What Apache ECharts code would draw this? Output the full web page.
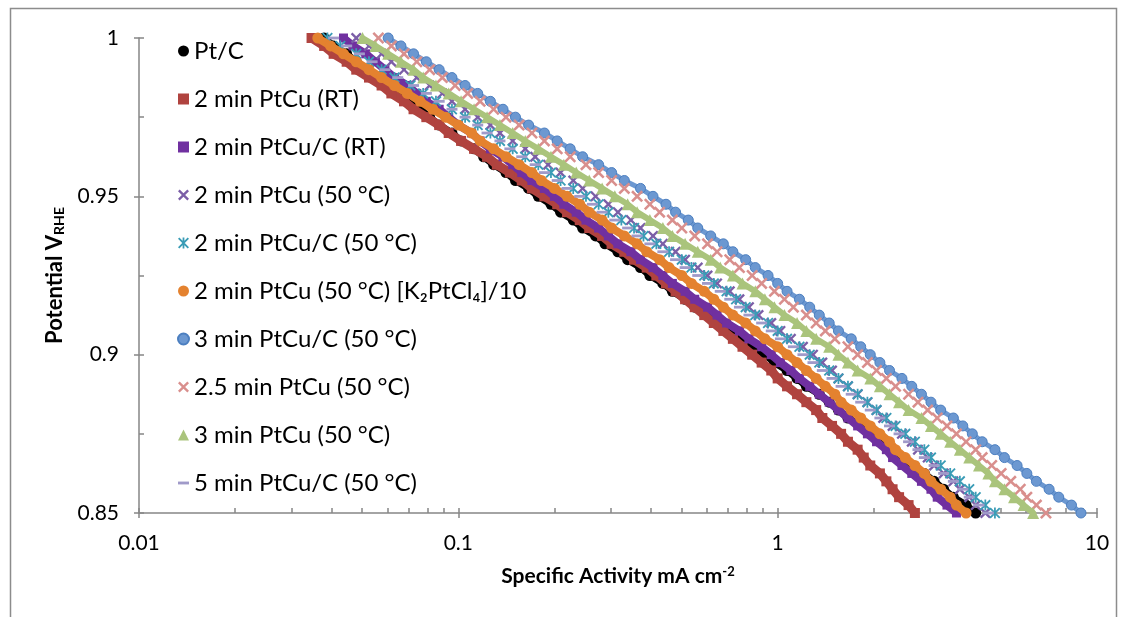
<!DOCTYPE html>
<html>
<head>
<meta charset="utf-8">
<script src="https://cdn.jsdelivr.net/npm/echarts@6/dist/echarts.min.js"></script>
<style>
  html, body { margin: 0; padding: 0; background: #ffffff; }
  #chart { width: 1126px; height: 617px; }
</style>
</head>
<body>
<div id="chart"></div>
<script>
// Electrode potential (V vs RHE), shared by every polarisation curve
const potential = [
  1.0000, 0.9975, 0.9950, 0.9925, 0.9900, 0.9875, 0.9850, 0.9825, 0.9800, 0.9775,
  0.9750, 0.9725, 0.9700, 0.9675, 0.9650, 0.9625, 0.9600, 0.9575, 0.9550, 0.9525,
  0.9500, 0.9475, 0.9450, 0.9425, 0.9400, 0.9375, 0.9350, 0.9325, 0.9300, 0.9275,
  0.9250, 0.9225, 0.9200, 0.9175, 0.9150, 0.9125, 0.9100, 0.9075, 0.9050, 0.9025,
  0.9000, 0.8975, 0.8950, 0.8925, 0.8900, 0.8875, 0.8850, 0.8825, 0.8800, 0.8775,
  0.8750, 0.8725, 0.8700, 0.8675, 0.8650, 0.8625, 0.8600, 0.8575, 0.8550, 0.8525,
  0.8500
];

// Specific activity (mA cm-2) at each potential above
const ptC = [
  0.0380, 0.0407, 0.0447, 0.0479, 0.0513, 0.0562, 0.0603, 0.0646, 0.0692, 0.0759, 0.0813,
  0.0871, 0.0955, 0.102, 0.112, 0.120, 0.129, 0.141, 0.151, 0.166, 0.178,
  0.195, 0.209, 0.229, 0.245, 0.269, 0.288, 0.316, 0.339, 0.372, 0.398,
  0.437, 0.468, 0.513, 0.550, 0.603, 0.661, 0.708, 0.776, 0.832, 0.912,
  0.977, 1.07, 1.15, 1.23, 1.35, 1.45, 1.55, 1.66, 1.82, 1.95,
  2.09, 2.29, 2.45, 2.63, 2.88, 3.09, 3.31, 3.55, 3.89, 4.17
];
const ptCu2RT = [
  0.0347, 0.0380, 0.0407, 0.0447, 0.0479, 0.0525, 0.0575, 0.0617, 0.0676, 0.0724, 0.0794,
  0.0871, 0.0933, 0.102, 0.112, 0.123, 0.132, 0.145, 0.158, 0.170, 0.186,
  0.204, 0.219, 0.240, 0.257, 0.282, 0.302, 0.331, 0.355, 0.389, 0.417,
  0.447, 0.479, 0.513, 0.550, 0.589, 0.631, 0.676, 0.724, 0.776, 0.832,
  0.891, 0.955, 1.00, 1.07, 1.15, 1.23, 1.32, 1.38, 1.48, 1.58,
  1.66, 1.78, 1.86, 1.95, 2.09, 2.19, 2.29, 2.40, 2.57, 2.69
];
const ptCuC2RT = [
  0.0437, 0.0468, 0.0513, 0.0550, 0.0589, 0.0631, 0.0692, 0.0741, 0.0794, 0.0871, 0.0933,
  0.100, 0.110, 0.117, 0.126, 0.138, 0.148, 0.158, 0.170, 0.186, 0.200,
  0.214, 0.234, 0.251, 0.275, 0.295, 0.316, 0.347, 0.372, 0.407, 0.437,
  0.468, 0.513, 0.550, 0.603, 0.646, 0.692, 0.759, 0.813, 0.891, 0.955,
  1.02, 1.10, 1.17, 1.26, 1.35, 1.45, 1.55, 1.66, 1.78, 1.91,
  2.04, 2.19, 2.29, 2.45, 2.63, 2.82, 3.02, 3.16, 3.39, 3.63
];
const ptCu2At50 = [
  0.0479, 0.0525, 0.0575, 0.0617, 0.0676, 0.0741, 0.0813, 0.0891, 0.0955, 0.105, 0.115,
  0.126, 0.135, 0.148, 0.162, 0.174, 0.191, 0.209, 0.229, 0.245, 0.269,
  0.295, 0.316, 0.347, 0.372, 0.407, 0.437, 0.479, 0.513, 0.562, 0.603,
  0.646, 0.708, 0.759, 0.813, 0.871, 0.955, 1.02, 1.10, 1.20, 1.29,
  1.38, 1.48, 1.55, 1.66, 1.78, 1.91, 2.04, 2.14, 2.29, 2.45,
  2.63, 2.75, 2.95, 3.09, 3.31, 3.55, 3.72, 3.98, 4.17, 4.47
];
const ptCuC2At50 = [
  0.0389, 0.0427, 0.0479, 0.0525, 0.0575, 0.0631, 0.0708, 0.0776, 0.0851, 0.0955, 0.105,
  0.115, 0.126, 0.135, 0.148, 0.162, 0.178, 0.195, 0.209, 0.229, 0.251,
  0.275, 0.295, 0.324, 0.355, 0.380, 0.417, 0.457, 0.501, 0.537, 0.589,
  0.631, 0.692, 0.741, 0.794, 0.851, 0.933, 1.00, 1.07, 1.17, 1.26,
  1.35, 1.45, 1.55, 1.66, 1.78, 1.91, 2.04, 2.19, 2.34, 2.51,
  2.69, 2.88, 3.02, 3.24, 3.47, 3.72, 3.98, 4.17, 4.47, 4.79
];
const ptCu2At50Dilute = [
  0.0363, 0.0398, 0.0437, 0.0479, 0.0525, 0.0575, 0.0631, 0.0692, 0.0759, 0.0832, 0.0912,
  0.100, 0.110, 0.117, 0.129, 0.141, 0.155, 0.170, 0.182, 0.200, 0.219,
  0.240, 0.257, 0.282, 0.302, 0.331, 0.363, 0.389, 0.427, 0.457, 0.501,
  0.537, 0.589, 0.631, 0.676, 0.724, 0.794, 0.851, 0.912, 1.00, 1.07,
  1.15, 1.23, 1.32, 1.41, 1.51, 1.58, 1.70, 1.82, 1.95, 2.09,
  2.24, 2.34, 2.51, 2.69, 2.88, 3.02, 3.24, 3.47, 3.63, 3.89
];
const ptCuC3At50 = [
  0.0603, 0.0661, 0.0724, 0.0794, 0.0871, 0.0955, 0.105, 0.115, 0.126, 0.138, 0.151,
  0.166, 0.186, 0.204, 0.224, 0.245, 0.275, 0.302, 0.331, 0.372, 0.407,
  0.447, 0.479, 0.525, 0.562, 0.617, 0.676, 0.724, 0.794, 0.851, 0.933,
  1.00, 1.07, 1.17, 1.26, 1.35, 1.45, 1.55, 1.70, 1.82, 1.95,
  2.09, 2.24, 2.45, 2.63, 2.82, 3.02, 3.24, 3.55, 3.80, 4.07,
  4.37, 4.79, 5.13, 5.62, 6.03, 6.46, 7.08, 7.59, 8.32, 8.91
];
const ptCu25At50 = [
  0.0562, 0.0617, 0.0676, 0.0741, 0.0813, 0.0891, 0.0977, 0.107, 0.117, 0.129, 0.141,
  0.155, 0.170, 0.186, 0.204, 0.224, 0.251, 0.275, 0.302, 0.331, 0.363,
  0.398, 0.427, 0.468, 0.501, 0.550, 0.603, 0.646, 0.708, 0.759, 0.832,
  0.891, 0.977, 1.05, 1.12, 1.23, 1.32, 1.41, 1.51, 1.66, 1.78,
  1.91, 2.04, 2.19, 2.34, 2.57, 2.75, 2.95, 3.16, 3.39, 3.63,
  3.89, 4.17, 4.37, 4.68, 5.01, 5.37, 5.75, 6.03, 6.46, 6.92
];
const ptCu3At50 = [
  0.0501, 0.0550, 0.0603, 0.0661, 0.0724, 0.0776, 0.0851, 0.0933, 0.102, 0.112, 0.123,
  0.135, 0.148, 0.162, 0.178, 0.195, 0.214, 0.234, 0.257, 0.282, 0.309,
  0.339, 0.363, 0.398, 0.437, 0.468, 0.513, 0.562, 0.617, 0.661, 0.724,
  0.776, 0.851, 0.912, 0.977, 1.05, 1.15, 1.23, 1.32, 1.45, 1.55,
  1.66, 1.78, 1.95, 2.09, 2.24, 2.40, 2.57, 2.82, 3.02, 3.24,
  3.47, 3.72, 3.98, 4.27, 4.57, 4.79, 5.13, 5.50, 5.89, 6.31
];
const ptCuC5At50 = [
  0.0407, 0.0447, 0.0490, 0.0537, 0.0589, 0.0646, 0.0724, 0.0794, 0.0871, 0.0955, 0.105,
  0.115, 0.123, 0.135, 0.145, 0.158, 0.174, 0.186, 0.204, 0.219, 0.240,
  0.263, 0.282, 0.309, 0.339, 0.363, 0.398, 0.437, 0.479, 0.513, 0.562,
  0.603, 0.661, 0.708, 0.759, 0.813, 0.891, 0.955, 1.02, 1.12, 1.20,
  1.29, 1.38, 1.48, 1.58, 1.70, 1.82, 1.95, 2.09, 2.24, 2.40,
  2.57, 2.75, 2.88, 3.09, 3.31, 3.55, 3.80, 3.98, 4.27, 4.57
];

// Series names, in legend order
const seriesNames = [
  'Pt/C',
  '2 min PtCu (RT)',
  '2 min PtCu/C (RT)',
  '2 min PtCu (50 °C)',
  '2 min PtCu/C (50 °C)',
  '2 min PtCu (50 °C) [K₂PtCl₄]/10',
  '3 min PtCu/C (50 °C)',
  '2.5 min PtCu (50 °C)',
  '3 min PtCu (50 °C)',
  '5 min PtCu/C (50 °C)'
];

// Axis tick values
const xMajorTicks = [0.01, 0.1, 1, 10];
const xMinorTicks = [
  0.01, 0.02, 0.03, 0.04, 0.05, 0.06, 0.07, 0.08, 0.09,
  0.1, 0.2, 0.3, 0.4, 0.5, 0.6, 0.7, 0.8, 0.9,
  1, 2, 3, 4, 5, 6, 7, 8, 9, 10
];

// Marker shapes
const X_MARK = 'path://M0,1.5L1.5,0L5,3.5L8.5,0L10,1.5L6.5,5L10,8.5L8.5,10L5,6.5L1.5,10L0,8.5L3.5,5Z';
const STAR_MARK = 'path://M4.2,0L5.8,0L5.8,10L4.2,10Z M0,1.2L1.2,0L10,8.8L8.8,10Z M8.8,0L10,1.2L1.2,10L0,8.8Z';
const DASH_MARK = 'path://M0,0L10,0L10,2.6L0,2.6Z';

const FONT = "Lato, 'DejaVu Sans', sans-serif";
const AXIS_GREY = '#868686';

// band: width of the trace joining consecutive filled markers (0 = markers only)
const styles = [
  { values: ptC,             symbol: 'circle',   size: 11,        color: '#000000', band: 7 },
  { values: ptCu2RT,         symbol: 'rect',     size: 10,        color: '#B0433F', band: 9 },
  { values: ptCuC2RT,        symbol: 'rect',     size: 9,         color: '#7030A0', band: 8 },
  { values: ptCu2At50,       symbol: X_MARK,     size: 11,        color: '#7B5EA7', band: 0 },
  { values: ptCuC2At50,      symbol: STAR_MARK,  size: 11,        color: '#3A9CB6', band: 0 },
  { values: ptCu2At50Dilute, symbol: 'circle',   size: 11,        color: '#E4822F', band: 8 },
  { values: ptCuC3At50,      symbol: 'circle',   size: 10,        color: '#6C98D1', band: 5, border: '#4C7FC0' },
  { values: ptCu25At50,      symbol: X_MARK,     size: 12,        color: '#D98F8D', band: 0 },
  { values: ptCu3At50,       symbol: 'triangle', size: 12,        color: '#AAC47C', band: 6 },
  { values: ptCuC5At50,      symbol: DASH_MARK,  size: [11, 2.8], color: '#A09AC9', band: 0 }
];

const series = styles.map((s, i) => {
  const base = {
    name: seriesNames[i],
    data: potential.map((v, k) => [s.values[k], v]),
    symbol: s.symbol,
    symbolSize: s.size,
    itemStyle: {
      color: s.color,
      opacity: 1,
      borderColor: s.border || s.color,
      borderWidth: s.border ? 1 : 0
    },
    emphasis: { disabled: true },
    z: 2 + i
  };
  if (s.band) {
    return Object.assign(base, {
      type: 'line',
      showSymbol: true,
      showAllSymbol: true,
      lineStyle: { color: s.color, width: s.band, cap: 'round', join: 'round' }
    });
  }
  return Object.assign(base, { type: 'scatter' });
});

const legendIcons = {
  'Pt/C': 'circle',
  '2 min PtCu (RT)': 'rect',
  '2 min PtCu/C (RT)': 'rect',
  '2 min PtCu (50 °C) [K₂PtCl₄]/10': 'circle',
  '3 min PtCu/C (50 °C)': 'circle',
  '3 min PtCu (50 °C)': 'triangle',
  '5 min PtCu/C (50 °C)': DASH_MARK
};

const chart = echarts.init(document.getElementById('chart'), null, { renderer: 'canvas' });
chart.setOption({
  animation: false,
  backgroundColor: '#ffffff',
  textStyle: { fontFamily: FONT },
  graphic: [{
    type: 'rect',
    silent: true,
    z: -10,
    shape: { x: 10.5, y: 8.5, width: 1106, height: 640 },
    style: { fill: 'none', stroke: '#8c8c8c', lineWidth: 1.5 }
  }],
  grid: { left: 139, right: 29, top: 38, bottom: 104 },
  legend: {
    orient: 'vertical',
    left: 172,
    top: 32,
    itemWidth: 11,
    itemHeight: 11,
    itemGap: 20,
    selectedMode: false,
    textStyle: { fontFamily: FONT, fontSize: 24, lineHeight: 28, color: '#000000' },
    data: seriesNames.map(n => legendIcons[n] ? { name: n, icon: legendIcons[n] } : { name: n })
  },
  xAxis: [{
    type: 'log',
    logBase: 10,
    min: 0.01,
    max: 10,
    position: 'bottom',
    name: 'Specific Activity mA cm{sup|-2}',
    nameLocation: 'middle',
    nameGap: 52,
    nameTextStyle: {
      fontFamily: FONT, fontSize: 21, fontWeight: 'bold', color: '#000000',
      rich: { sup: { fontFamily: FONT, fontSize: 13, fontWeight: 'bold', color: '#000000', verticalAlign: 'top', padding: [0, 0, 10, 0] } }
    },
    axisLine: { onZero: false, lineStyle: { color: AXIS_GREY, width: 1.5 } },
    axisTick: { inside: false, length: 5, lineStyle: { color: AXIS_GREY, width: 1.5 }, customValues: xMajorTicks },
    axisLabel: { fontFamily: FONT, fontSize: 21, color: '#000000', margin: 20, customValues: xMajorTicks,
      formatter: v => String(+v.toPrecision(3)) },
    splitLine: { show: false },
    minorTick: { show: false },
    minorSplitLine: { show: false }
  }, {
    type: 'log',
    logBase: 10,
    min: 0.01,
    max: 10,
    position: 'bottom',
    axisLine: { show: false },
    axisLabel: { show: false },
    axisTick: { inside: true, length: 5, lineStyle: { color: AXIS_GREY, width: 1.5 }, customValues: xMinorTicks },
    splitLine: { show: false }
  }],
  yAxis: [{
    type: 'value',
    min: 0.85,
    max: 1,
    interval: 0.05,
    position: 'left',
    name: 'Potential V{sub|RHE}',
    nameLocation: 'middle',
    nameGap: 61,
    nameTextStyle: {
      fontFamily: FONT, fontSize: 22, fontWeight: 'bold', color: '#000000',
      rich: { sub: { fontFamily: FONT, fontSize: 14, fontWeight: 'bold', color: '#000000', verticalAlign: 'bottom', padding: [9, 0, 0, 0] } }
    },
    axisLine: { onZero: false, lineStyle: { color: AXIS_GREY, width: 1.5 } },
    axisTick: { inside: false, length: 5, lineStyle: { color: AXIS_GREY, width: 1.5 } },
    axisLabel: { fontFamily: FONT, fontSize: 21, color: '#000000', margin: 20,
      formatter: v => String(+v.toFixed(3)) },
    splitLine: { show: false }
  }, {
    type: 'value',
    min: 0.85,
    max: 1,
    interval: 0.025,
    position: 'left',
    axisLine: { show: false },
    axisLabel: { show: false },
    axisTick: { inside: true, length: 5, lineStyle: { color: AXIS_GREY, width: 1.5 } },
    splitLine: { show: false }
  }],
  series: series
});
</script>
</body>
</html>
